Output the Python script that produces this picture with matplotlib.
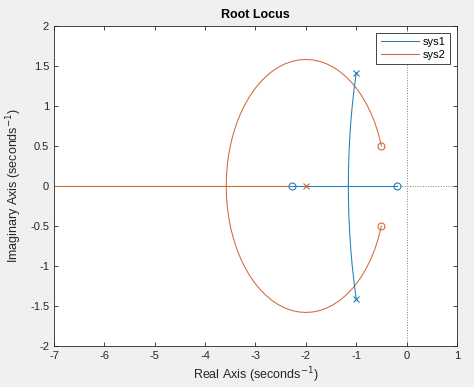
import matplotlib
matplotlib.use('Agg')
import matplotlib.pyplot as plt
import numpy as np

# --- Data ---
# sys1: complex pole pair, two real zeros
sys1_poles_re = [-1.0, -1.0]
sys1_poles_im = [1.414, -1.414]
sys1_zeros_re = [-2.28, -0.2]
sys1_zeros_im = [0.0, 0.0]
# upper branch from pole down to break-in point
sys1_branch_re = [-1.000, -1.044, -1.079, -1.107, -1.128, -1.144, -1.153, -1.156]
sys1_branch_im = [1.414, 1.2, 1.0, 0.8, 0.6, 0.4, 0.2, 0.0]
# real-axis segment between the zeros
sys1_real_re = [-2.28, -0.2]

# sys2: real pole, complex zero pair
sys2_poles_re = [-2.0]
sys2_poles_im = [0.0]
sys2_zeros_re = [-0.5, -0.5]
sys2_zeros_im = [0.5, -0.5]
# upper arc from zero round to break-in point on real axis
sys2_arc_re = [-0.500, -0.567, -0.631, -0.705, -0.789, -0.882, -0.984, -1.093,
               -1.210, -1.332, -1.459, -1.591, -1.726, -1.862, -2.000, -2.138,
               -2.274, -2.409, -2.541, -2.668, -2.790, -2.907, -3.016, -3.118,
               -3.211, -3.295, -3.369, -3.433, -3.486, -3.527, -3.557, -3.575,
               -3.581]
sys2_arc_im = [0.500, 0.668, 0.791, 0.907, 1.016, 1.118, 1.211, 1.295,
               1.369, 1.433, 1.486, 1.527, 1.557, 1.575, 1.581, 1.575,
               1.557, 1.527, 1.486, 1.433, 1.369, 1.295, 1.211, 1.118,
               1.016, 0.907, 0.791, 0.668, 0.541, 0.409, 0.275, 0.138,
               0.0]
sys2_real_re = [-7.0, -2.0]

xticks = [-7, -6, -5, -4, -3, -2, -1, 0, 1]
yticks = [-2, -1.5, -1, -0.5, 0, 0.5, 1, 1.5, 2]
ytick_labels = ['-2', '-1.5', '-1', '-0.5', '0', '0.5', '1', '1.5', '2']

C1 = '#1f7fb8'
C2 = '#cf6a36'
TXT = '#262626'

plt.rcParams['axes.unicode_minus'] = False
plt.rcParams['font.family'] = ['Liberation Sans', 'DejaVu Sans']

fig = plt.figure(figsize=(4.74, 3.87), dpi=100, facecolor='#f0f0f0')
ax = fig.add_axes([0.114, 0.106, 0.850, 0.827])
ax.set_facecolor('white')

# reference lines through origin
ax.axvline(0, color='#7f7f7f', linestyle=':', linewidth=0.7, zorder=1)
ax.axhline(0, color='#7f7f7f', linestyle=':', linewidth=0.7, zorder=1)

lw = 0.75
# sys1
b_re = np.array(sys1_branch_re)
b_im = np.array(sys1_branch_im)
ax.plot(b_re, b_im, color=C1, lw=lw, label='sys1', zorder=3)
ax.plot(b_re, -b_im, color=C1, lw=lw, zorder=3)
ax.plot(sys1_real_re, [0, 0], color=C1, lw=lw, zorder=3)
ax.plot(sys1_poles_re, sys1_poles_im, 'x', color=C1, ms=5, mew=0.8, zorder=4)
ax.plot(sys1_zeros_re, sys1_zeros_im, 'o', color=C1, ms=5, mew=0.8,
        mfc='none', zorder=4)

# sys2
a_re = np.array(sys2_arc_re)
a_im = np.array(sys2_arc_im)
ax.plot(a_re, a_im, color=C2, lw=lw, label='sys2', zorder=2)
ax.plot(a_re, -a_im, color=C2, lw=lw, zorder=2)
ax.plot(sys2_real_re, [0, 0], color=C2, lw=lw, zorder=2)
ax.plot(sys2_poles_re, sys2_poles_im, 'x', color=C2, ms=5, mew=0.8, zorder=4)
ax.plot(sys2_zeros_re, sys2_zeros_im, 'o', color=C2, ms=5, mew=0.8,
        mfc='none', zorder=4)

ax.set_xlim(-7, 1)
ax.set_ylim(-2, 2)
ax.set_xticks(xticks)
ax.set_xticklabels([str(t) for t in xticks])
ax.set_yticks(yticks)
ax.set_yticklabels(ytick_labels)
ax.tick_params(direction='in', top=True, right=True, length=3, width=0.6,
               colors=TXT, labelsize=8, labelcolor=TXT)
for s in ax.spines.values():
    s.set_color(TXT)
    s.set_linewidth(0.6)

ax.set_title('Root Locus', fontsize=9, fontweight='bold', color='black', pad=6)
ax.set_xlabel('Real Axis (seconds$^{-1}$)', fontsize=9, color=TXT, labelpad=3)
ax.set_ylabel('Imaginary Axis (seconds$^{-1}$)', fontsize=9, color=TXT, labelpad=4)

leg = ax.legend(loc='upper right', fontsize=8, fancybox=False, framealpha=1,
                edgecolor=TXT, handlelength=3.4, borderpad=0.4,
                labelspacing=0.25, handletextpad=0.4, borderaxespad=0.6)
leg.get_frame().set_linewidth(0.6)

fig.savefig('out.png', dpi=100, facecolor=fig.get_facecolor())
